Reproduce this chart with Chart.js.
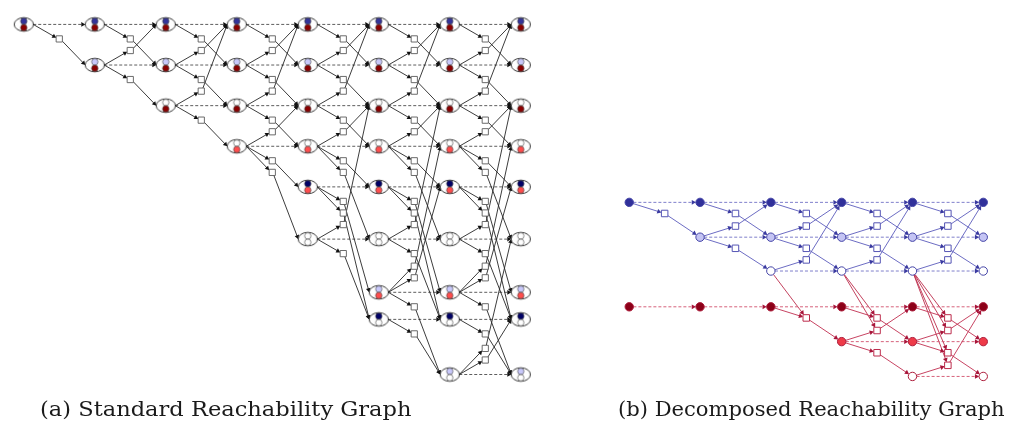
<!DOCTYPE html>
<html>
<head>
<meta charset="utf-8">
<script src="https://cdn.jsdelivr.net/npm/chart.js@4.4.0/dist/chart.umd.min.js"></script>
<style>
  html, body { margin: 0; padding: 0; background: #fff; }
  #wrap { position: relative; width: 1009px; height: 426px; overflow: hidden; }
  canvas { position: absolute; left: 0; top: 0; }
  .caption {
    position: absolute; top: 397px;
    font-family: 'DejaVu Serif', serif; font-size: 20px;
    white-space: nowrap; color: #1a1a1a; transform-origin: left top;
  }
</style>
</head>
<body>
<div id="wrap">
  <canvas id="graph" width="1009" height="426"></canvas>
  <div class="caption" id="capA" style="left:40px">(a) Standard Reachability Graph</div>
  <div class="caption" id="capB" style="left:618px">(b) Decomposed Reachability Graph</div>
</div>
<script>
// ------------------------------------------------------------------
// Data
// ------------------------------------------------------------------

// (a) combined states, one per row: blue token colour / red token colour
const leftStates  = ['DD', 'LD', 'WD', 'WR', 'NR', 'WW', 'LR', 'NW', 'LW'];
const leftTop     = ['#34349a', '#c8c8fa', '#ffffff', '#ffffff', '#000066', '#ffffff', '#c8c8fa', '#000066', '#c8c8fa'];
const leftBottom  = ['#8b0000', '#8b0000', '#8b0000', '#ff4d4d', '#ff4d4d', '#ffffff', '#ff4d4d', '#ffffff', '#ffffff'];
const leftFirst   = [0, 1, 2, 3, 4, 4, 5, 5, 6];   // first step each state is reached
const leftSteps   = 8;
// transitions: [from row, to row, square slot]
const leftMoves = [
  [0, 1, 1], [1, 0, -1], [1, 2, 1], [2, 0, -1], [2, 3, 1], [3, 2, -1],
  [3, 4, 1], [3, 5, 2], [4, 6, 1], [4, 7, 2], [5, 2, -1], [5, 7, 1],
  [6, 3, -2], [6, 4, -1], [6, 8, 1], [7, 8, 1], [8, 5, -2], [8, 7, -1],
];

// (b) decomposed: blue and red components
const rightSteps = 6;
const blueStates = ['D', 'L', 'W'];
const blueFill   = ['#30309a', '#c4c4f4', '#ffffff'];
const blueFirst  = [0, 1, 2];
const blueMoves  = [[0, 1, 1], [1, 0, -1], [1, 2, 1], [2, 0, -1]];
const redStates  = ['D', 'L', 'W'];
const redFill    = ['#8c0018', '#ee3a48', '#ffffff'];
const redFirst   = [0, 3, 4];
const redMoves   = [[0, 1, 1], [1, 0, -1], [1, 2, 1], [2, 0, -1]];
const redStart   = 2;                               // red moves need blue W
const redReads   = { 2: [0], 3: [0, 1], 4: [0, 1, 2, 3] };

// ------------------------------------------------------------------
// Layout
// ------------------------------------------------------------------
const LEFT_X0 = 17, LEFT_DX = 72;
const leftRowY = [18, 60, 102, 144, 186, 240, 295, 323, 380];
const RIGHT_X0 = 631, RIGHT_DX = 71.8;
const blueRowY = [202, 238, 273];
const redRowY  = [310, 346, 382];

const ELL = { kind: 'ell', rx: 9.6 };
const SQ_L = { kind: 'sq', h: 3.1 };
const SQ_R = { kind: 'sq', h: 3.3 };
const DOT = { kind: 'dot', r: 4.2 };

function unit(ax, ay, bx, by) {
  const dx = bx - ax, dy = by - ay, l = Math.hypot(dx, dy) || 1;
  return [dx / l, dy / l];
}
function borderDist(shape, ux, uy) {
  if (shape.kind === 'sq') return shape.h / Math.max(Math.abs(ux), Math.abs(uy));
  return shape.r;
}
function makeSet() { return { lines: [], dashed: [], arrows: [], squares: [], nodes: [] }; }

function connect(lines, arrows, a, b, ar) {
  const [ux, uy] = unit(a.x, a.y, b.x, b.y);
  const s = a.shape.kind === 'ell'
    ? { x: a.x + a.shape.rx, y: a.y }
    : { x: a.x + ux * borderDist(a.shape, ux, uy), y: a.y + uy * borderDist(a.shape, ux, uy) };
  const e = b.shape.kind === 'ell'
    ? { x: b.x - b.shape.rx, y: b.y }
    : { x: b.x - ux * borderDist(b.shape, ux, uy), y: b.y - uy * borderDist(b.shape, ux, uy) };
  const [vx, vy] = unit(s.x, s.y, e.x, e.y);
  const tip = { x: e.x - vx * ar, y: e.y - vy * ar };
  lines.push({ x: s.x, y: s.y }, { x: tip.x, y: tip.y }, { x: null, y: null });
  arrows.push({ x: tip.x, y: tip.y, r: Math.atan2(vx, -vy) * 180 / Math.PI });
}

// ---- (a) standard graph ----
const left = makeSet();
const AR_L = 2.7;
const leftNode = (step, row) => ({ x: LEFT_X0 + LEFT_DX * step, y: leftRowY[row], shape: ELL });
for (let step = 0; step < leftSteps; step++) {
  leftStates.forEach((_, row) => {
    if (leftFirst[row] > step) return;
    left.nodes.push({ x: LEFT_X0 + LEFT_DX * step, y: leftRowY[row], k: row });
    if (step === leftSteps - 1) return;
    connect(left.dashed, left.arrows, leftNode(step, row), leftNode(step + 1, row), AR_L);
  });
  if (step === leftSteps - 1) continue;
  leftMoves.forEach(([from, to, slot]) => {
    if (leftFirst[from] > step) return;
    const sq = {
      x: LEFT_X0 + LEFT_DX * (step + 0.5),
      y: leftRowY[from] + Math.sign(slot) * (3 + 12 * Math.abs(slot)),
      shape: SQ_L,
    };
    left.squares.push({ x: sq.x, y: sq.y });
    connect(left.lines, left.arrows, leftNode(step, from), sq, AR_L);
    connect(left.lines, left.arrows, sq, leftNode(step + 1, to), AR_L);
  });
}

// ---- (b) decomposed graph ----
const blue = makeSet(), red = makeSet();
const reads = { lines: [], arrows: [] };
const AR_R = 2.8;
function addComponent(set, states, first, moves, rowY, startStep, readFor) {
  const node = (step, row) => ({ x: RIGHT_X0 + RIGHT_DX * step, y: rowY[row], shape: DOT });
  for (let step = 0; step < rightSteps; step++) {
    states.forEach((_, row) => {
      if (first[row] > step) return;
      set.nodes.push({ x: RIGHT_X0 + RIGHT_DX * step, y: rowY[row], k: row });
      if (step === rightSteps - 1) return;
      connect(set.dashed, set.arrows, node(step, row), node(step + 1, row), AR_R);
    });
    if (step === rightSteps - 1 || step < startStep) continue;
    moves.forEach(([from, to, slot], m) => {
      if (first[from] > step) return;
      const sq = { x: RIGHT_X0 + RIGHT_DX * (step + 0.5), y: rowY[from] + slot * 11.5, shape: SQ_R };
      set.squares.push({ x: sq.x, y: sq.y });
      connect(set.lines, set.arrows, node(step, from), sq, AR_R);
      connect(set.lines, set.arrows, sq, node(step + 1, to), AR_R);
      if (readFor && (readFor[step] || []).includes(m)) {
        const w = { x: RIGHT_X0 + RIGHT_DX * step, y: blueRowY[2], shape: DOT };
        connect(reads.lines, reads.arrows, w, sq, AR_R);
      }
    });
  }
}
addComponent(blue, blueStates, blueFirst, blueMoves, blueRowY, 0, null);
addComponent(red, redStates, redFirst, redMoves, redRowY, redStart, redReads);

// ------------------------------------------------------------------
// Node images for the combined states
// ------------------------------------------------------------------
function stateImage(top, bottom) {
  const c = document.createElement('canvas');
  c.width = 24; c.height = 18;
  const g = c.getContext('2d');
  g.fillStyle = '#fff'; g.strokeStyle = '#222'; g.lineWidth = 0.9;
  g.beginPath(); g.ellipse(12, 9, 9.6, 6.8, 0, 0, 2 * Math.PI); g.fill(); g.stroke();
  [[top, 5.8], [bottom, 12.2]].forEach(([col, cy]) => {
    g.beginPath(); g.arc(12, cy, 3.2, 0, 2 * Math.PI);
    g.fillStyle = col; g.fill();
    g.strokeStyle = '#444'; g.lineWidth = 0.6; g.stroke();
  });
  return c;
}
const leftImages = leftStates.map((_, i) => stateImage(leftTop[i], leftBottom[i]));

// ------------------------------------------------------------------
// Chart
// ------------------------------------------------------------------
const lineSet = (data, color, width, dash) => ({
  data, showLine: true, spanGaps: false, borderColor: color, borderWidth: width,
  borderDash: dash || [], pointRadius: 0, pointHitRadius: 0, clip: false, order: 3,
});
const arrowSet = (data, color, size) => ({
  data, showLine: false, pointStyle: 'triangle', pointRadius: size,
  pointRotation: ctx => (ctx.raw ? ctx.raw.r : 0),
  pointBackgroundColor: color, backgroundColor: color, pointBorderWidth: 0, borderWidth: 0,
  clip: false, order: 2,
});
const squareSet = (data, border, size, width) => ({
  data, showLine: false, pointStyle: 'rect', pointRadius: size,
  pointBackgroundColor: '#fff', backgroundColor: '#fff', pointBorderColor: border, borderColor: border,
  pointBorderWidth: width, clip: false, order: 1,
});
const dotSet = (data, fills, border) => ({
  data, showLine: false, pointStyle: 'circle', pointRadius: 4.2,
  pointBackgroundColor: ctx => (ctx.raw ? fills[ctx.raw.k] : '#fff'),
  pointBorderColor: border, pointBorderWidth: 1, clip: false, order: 0,
});

new Chart(document.getElementById('graph'), {
  type: 'scatter',
  data: {
    datasets: [
      lineSet(left.lines, '#262626', 0.9),
      lineSet(left.dashed, '#404040', 0.85, [3, 2]),
      arrowSet(left.arrows, '#111', AR_L),
      squareSet(left.squares, '#5a5a5a', 4.4, 0.9),
      {
        data: left.nodes, showLine: false, pointRadius: 6,
        pointStyle: ctx => (ctx.raw ? leftImages[ctx.raw.k] : 'circle'),
        clip: false, order: 0,
      },
      lineSet(blue.lines, '#6464c0', 0.95),
      lineSet(blue.dashed, '#7878c8', 0.95, [3, 2]),
      arrowSet(blue.arrows, '#3a3aa0', AR_R),
      squareSet(blue.squares, '#5454b4', 4.6, 1),
      dotSet(blue.nodes, blueFill, '#4444a6'),
      lineSet(red.lines, '#c43a5a', 0.95),
      lineSet(red.dashed, '#d45a74', 0.95, [3, 2]),
      lineSet(reads.lines, '#bc2c4c', 0.9),
      arrowSet(red.arrows, '#a8153a', AR_R),
      arrowSet(reads.arrows, '#a8153a', AR_R),
      squareSet(red.squares, '#bc2c4c', 4.6, 1),
      dotSet(red.nodes, redFill, '#ac1c3a'),
    ],
  },
  options: {
    responsive: false,
    animation: false,
    events: [],
    layout: { padding: 0 },
    plugins: { legend: { display: false }, tooltip: { enabled: false } },
    scales: {
      x: { type: 'linear', min: 0, max: 1009, display: false },
      y: { type: 'linear', min: 0, max: 426, reverse: true, display: false },
    },
  },
});

// stretch captions to the widths of the reference
[['capA', 372], ['capB', 387]].forEach(([id, target]) => {
  const el = document.getElementById(id);
  el.style.transform = 'scaleX(' + (target / el.offsetWidth) + ')';
});
</script>
</body>
</html>
